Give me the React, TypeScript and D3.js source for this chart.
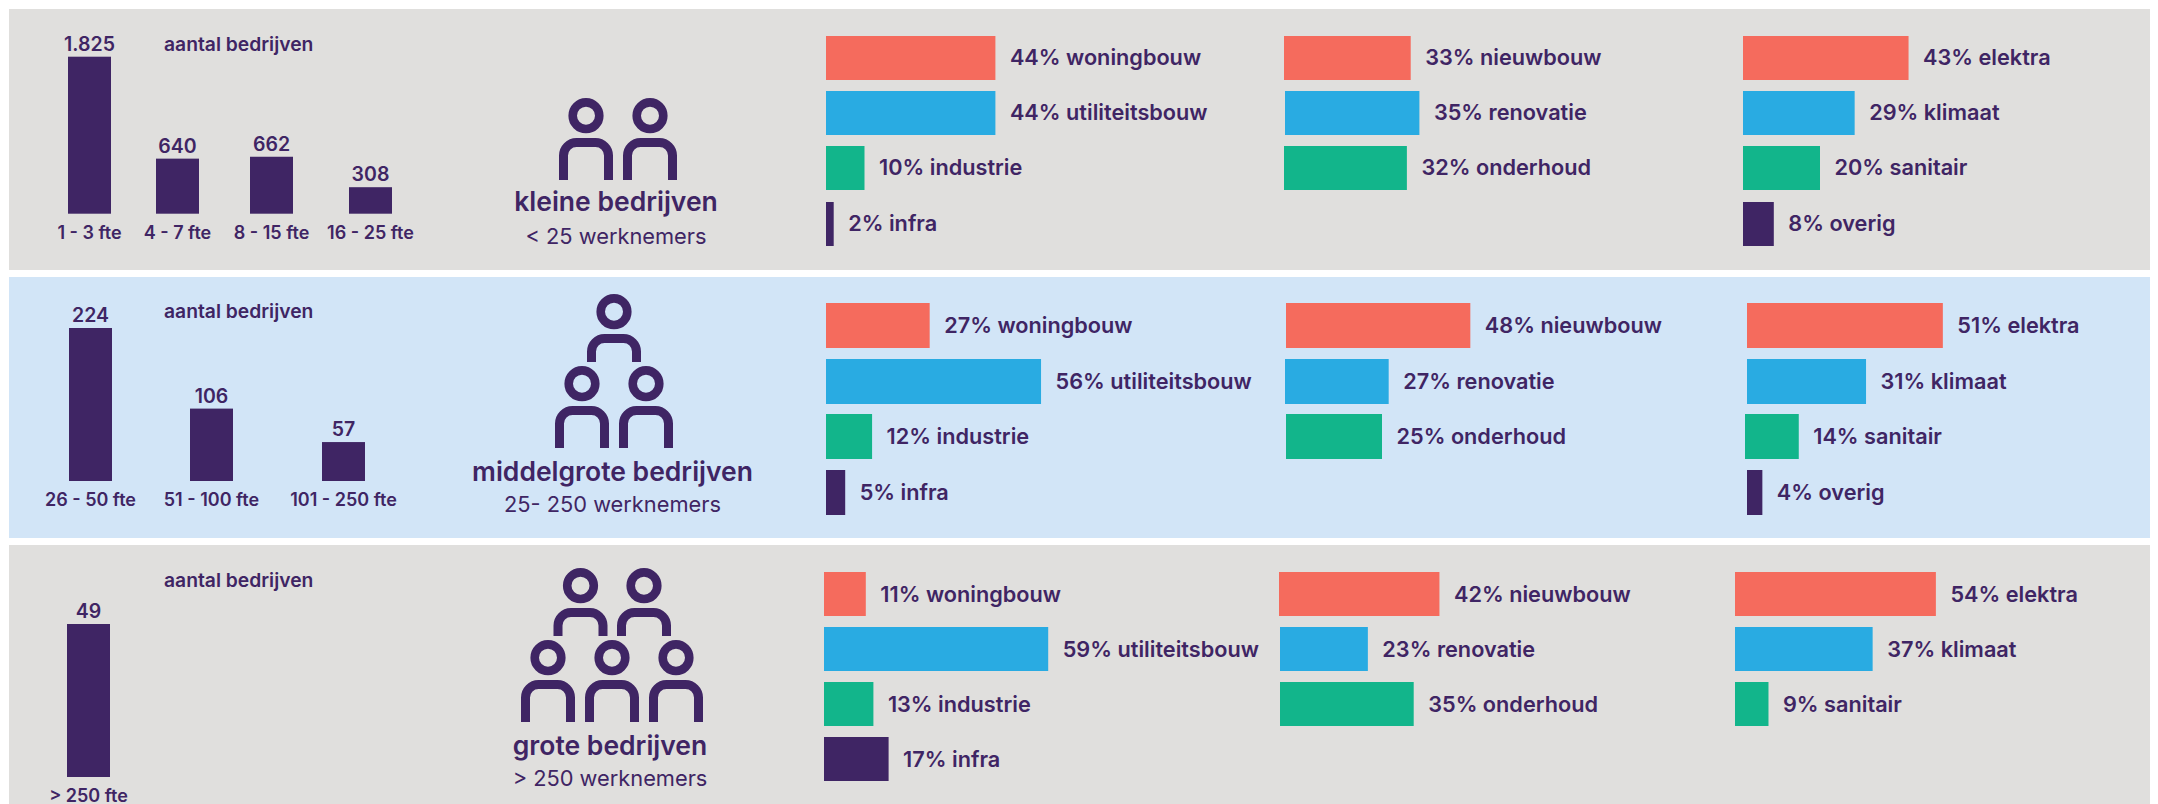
import React from "react";
import * as d3 from "d3";

const FONT = "Inter, 'Noto Sans', sans-serif";
const INK = "#3f2564";
const GREY = "#e0dfdd";
const PALE = "#d2e5f7";
const ROW_COLORS = ["#f56b5d", "#29abe2", "#12b58b", "#3f2564"];

const sizeLabelsSmall = ["1 - 3 fte", "4 - 7 fte", "8 - 15 fte", "16 - 25 fte"];
const sizeValuesSmall = [1825, 640, 662, 308];
const sizeDisplaySmall = ["1.825", "640", "662", "308"];
const sizeLabelsMid = ["26 - 50 fte", "51 - 100 fte", "101 - 250 fte"];
const sizeValuesMid = [224, 106, 57];
const sizeLabelsLarge = ["> 250 fte"];
const sizeValuesLarge = [49];

const marketLabels = ["woningbouw", "utiliteitsbouw", "industrie", "infra"];
const workLabels = ["nieuwbouw", "renovatie", "onderhoud"];
const tradeLabels = ["elektra", "klimaat", "sanitair", "overig"];

const marketSmall = [44, 44, 10, 2];
const workSmall = [33, 35, 32];
const tradeSmall = [43, 29, 20, 8];
const marketMid = [27, 56, 12, 5];
const workMid = [48, 27, 25];
const tradeMid = [51, 31, 14, 4];
const marketLarge = [11, 59, 13, 17];
const workLarge = [42, 23, 35];
const tradeLarge = [54, 37, 9];

type Col = { x: number; labels: string[]; values: number[]; perc: number; nudge?: number[] };
type Panel = {
  bg: string; top: number; bottom: number;
  sizeLabels: string[]; sizeValues: number[]; sizeDisplay: string[];
  centers: number[]; barBase: number; barH: number; axisTitleY: number;
  persons: [number, number, number][];
  title: string; sub: string; titleX: number; titleY: number; subY: number;
  rows: number[]; rowH: number; textDy: number; cols: Col[];
};

const panels: Panel[] = [
  {
    bg: GREY, top: 9, bottom: 270,
    sizeLabels: sizeLabelsSmall, sizeValues: sizeValuesSmall, sizeDisplay: sizeDisplaySmall,
    centers: [89.5, 177.5, 271.5, 370.5], barBase: 213.7, barH: 157, axisTitleY: 50.5,
    persons: [[586, 98, 82], [650, 98, 82]],
    title: "kleine bedrijven", sub: "< 25 werknemers", titleX: 616, titleY: 211, subY: 244,
    rows: [36, 91, 146, 202], rowH: 44, textDy: 7,
    cols: [
      { x: 826, labels: marketLabels, values: marketSmall, perc: 3.85 },
      { x: 1284, labels: workLabels, values: workSmall, perc: 3.84, nudge: [0, 1, 0] },
      { x: 1743, labels: tradeLabels, values: tradeSmall, perc: 3.85 },
    ],
  },
  {
    bg: PALE, top: 277, bottom: 538,
    sizeLabels: sizeLabelsMid, sizeValues: sizeValuesMid, sizeDisplay: sizeValuesMid.map(String),
    centers: [90.5, 211.5, 343.5], barBase: 481, barH: 153, axisTitleY: 318,
    persons: [[614, 294, 68], [582, 366, 82], [646, 366, 82]],
    title: "middelgrote bedrijven", sub: "25- 250 werknemers", titleX: 612.5, titleY: 480.7, subY: 512,
    rows: [303, 359, 414, 470], rowH: 45, textDy: 7.7,
    cols: [
      { x: 826, labels: marketLabels, values: marketMid, perc: 3.84 },
      { x: 1286, labels: workLabels, values: workMid, perc: 3.84, nudge: [0, -1, 0] },
      { x: 1747, labels: tradeLabels, values: tradeMid, perc: 3.84, nudge: [0, 0, -2, 0] },
    ],
  },
  {
    bg: GREY, top: 545, bottom: 804,
    sizeLabels: sizeLabelsLarge, sizeValues: sizeValuesLarge, sizeDisplay: sizeValuesLarge.map(String),
    centers: [88.5], barBase: 777, barH: 153, axisTitleY: 586.7,
    persons: [[580.5, 568, 68], [644, 568, 68], [548, 640, 82], [612, 640, 82], [676, 640, 82]],
    title: "grote bedrijven", sub: "> 250 werknemers", titleX: 610, titleY: 754.7, subY: 786,
    rows: [572, 627, 682, 737], rowH: 44, textDy: 7.7,
    cols: [
      { x: 824, labels: marketLabels, values: marketLarge, perc: 3.8 },
      { x: 1279, labels: workLabels, values: workLarge, perc: 3.82, nudge: [0, 1, 1] },
      { x: 1735, labels: tradeLabels, values: tradeLarge, perc: 3.72 },
    ],
  },
];

function Person({ cx, top, h }: { cx: number; top: number; h: number }) {
  const s = 9;
  const w = 54 - s;
  const y0 = top + 40 + s / 2;
  const r = 13;
  return (
    <g fill="none" stroke={INK}>
      <circle cx={cx} cy={top + 17.7} r={13.3} strokeWidth={8.6} />
      <path
        strokeWidth={s}
        d={`M${cx - w / 2},${top + h}V${y0 + r}A${r},${r} 0 0 1 ${cx - w / 2 + r},${y0}H${cx + w / 2 - r}A${r},${r} 0 0 1 ${cx + w / 2},${y0 + r}V${top + h}`}
      />
    </g>
  );
}

function PanelView({ p }: { p: Panel }) {
  const maxV = d3.max(p.sizeValues) as number;
  const y = d3.scaleLinear().domain([0, maxV]).range([p.barBase, p.barBase - p.barH]);
  return (
    <g fontFamily={FONT} fill={INK}>
      <rect x={9} y={p.top} width={2141} height={p.bottom - p.top} fill={p.bg} />
      <text x={164} y={p.axisTitleY} fontSize={19.3} fontWeight={600}>aantal bedrijven</text>
      {p.sizeValues.map((v, i) => (
        <g key={i}>
          <rect x={p.centers[i] - 21.5} y={y(v)} width={43} height={p.barBase - y(v)} fill={INK} />
          <text x={p.centers[i]} y={y(v) - 6} textAnchor="middle" fontSize={19.5} fontWeight={600}>{p.sizeDisplay[i]}</text>
          <text x={p.centers[i]} y={p.barBase + 25} textAnchor="middle" fontSize={18} fontWeight={600}>{p.sizeLabels[i]}</text>
        </g>
      ))}
      {p.persons.map(([cx, t, h], i) => <Person key={i} cx={cx} top={t} h={h} />)}
      <text x={p.titleX} y={p.titleY} textAnchor="middle" fontSize={26.5} fontWeight={600}>{p.title}</text>
      <text x={p.titleX} y={p.subY} textAnchor="middle" fontSize={21.8}>{p.sub}</text>
      {p.cols.map((c, ci) => {
        const x = d3.scaleLinear().domain([0, 100]).range([0, c.perc * 100]);
        return c.values.map((v, i) => {
          const x0 = c.x + (c.nudge ? c.nudge[i] : 0);
          return (
            <g key={`${ci}-${i}`}>
              <rect x={x0} y={p.rows[i]} width={x(v)} height={p.rowH} fill={ROW_COLORS[i]} />
              <text x={x0 + x(v) + 14.5} y={p.rows[i] + p.rowH / 2 + p.textDy} fontSize={21.7} fontWeight={600}>
                {`${v}% ${c.labels[i]}`}
              </text>
            </g>
          );
        });
      })}
    </g>
  );
}

export default function App() {
  return (
    <svg width={2158} height={804} viewBox="0 0 2158 804" style={{ position: "absolute", left: 0, top: 0, background: "#fff" }}>
      {panels.map((p, i) => <PanelView key={i} p={p} />)}
    </svg>
  );
}
